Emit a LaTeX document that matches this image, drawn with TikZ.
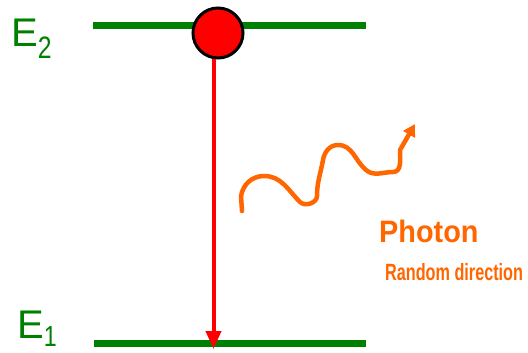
\documentclass[tikz,border=0pt]{standalone}
\usepackage{fontspec}
\usepackage{graphicx}
\setmainfont{Liberation Sans}
\usetikzlibrary{arrows.meta}
\definecolor{lvlgreen}{RGB}{0,128,0}
\definecolor{phorange}{RGB}{255,102,0}
\definecolor{elred}{RGB}{255,0,0}
\begin{document}
\begin{tikzpicture}[x=1pt,y=-1pt,
  level/.style={draw=lvlgreen, line width=6.5pt},
  elabel/.style={text=lvlgreen, inner sep=0pt, anchor=base west, font=\fontsize{40}{40}\selectfont},
  ptext/.style={text=phorange, inner sep=0pt, anchor=base west, font=\bfseries}]
\useasboundingbox (0,0) rectangle (528,353);
% energy levels
\coordinate (e2l) at (93,25.5);
\coordinate (e2r) at (366,25.5);
\coordinate (e1l) at (94,343.5);
\coordinate (e1r) at (366,343.5);
\draw[level] (e2l) -- (e2r);
\draw[level] (e1l) -- (e1r);
% labels
\node[elabel] (E2) at (11,47) {E\raisebox{-12pt}{\scalebox{0.8}[1]{\fontsize{31}{31}\selectfont 2}}};
\node[elabel] (E1) at (17,338) {E\raisebox{-8pt}{\scalebox{0.8}[1]{\fontsize{29}{29}\selectfont 1}}};
% electron
\node[circle, draw=black, line width=3pt, fill=elred, minimum size=50pt, inner sep=0pt] (el) at (218,33) {};
\coordinate (tip) at (213.5,349);
\draw[elred, line width=4pt, -{Triangle[width=15pt,length=18pt]}] (el.south -| tip) -- (tip);
% photon wave
\coordinate (ws) at (242,211);
\coordinate (we) at (415,124);
\draw[phorange, line width=4.5pt, line cap=round, line join=round, -{Triangle[width=13pt,length=12pt]}]
  (ws) -- (241,196) to[out=80,in=180] (264,176) to[out=0,in=135] (300,202)
  to[out=-45,in=-90] (317,196) to[out=90,in=-100] (323,160)
  to[out=80,in=180] (338,145) to[out=0,in=140] (366,170)
  to[out=-40,in=180] (393,172) to[out=0,in=-90] (400,150) -- (we);
% text
\node[ptext, font=\bfseries\fontsize{31}{31}\selectfont] (ph) at (379,242) {\scalebox{0.93}[1]{Photon}};
\node[ptext, font=\bfseries\fontsize{23.5}{23.5}\selectfont] (rd) at (385,280) {\scalebox{0.69}[1]{Random direction}};
\end{tikzpicture}
\end{document}
